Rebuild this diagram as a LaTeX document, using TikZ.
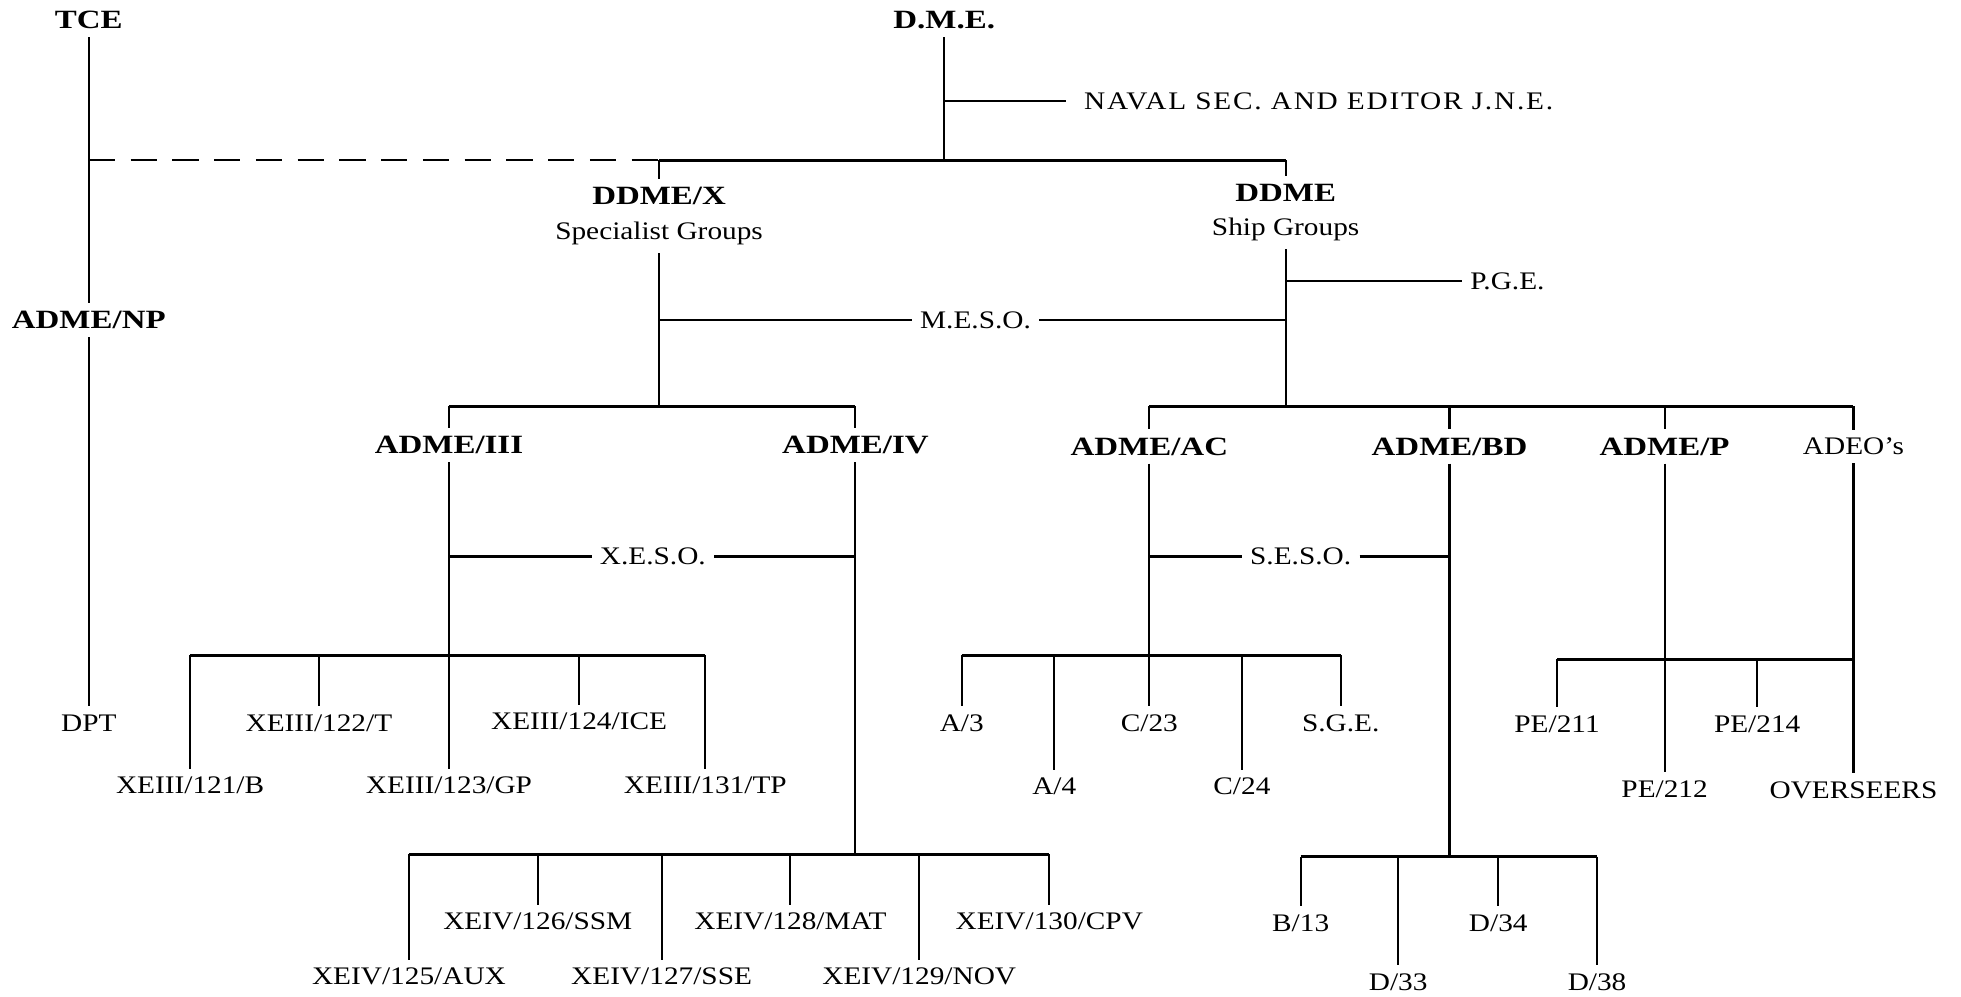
\documentclass[tikz,border=0pt]{standalone}
\usepackage{fontspec}
\setmainfont{Liberation Serif}[FakeStretch=1.16]
\newfontfamily\headfont{Liberation Serif}[FakeStretch=1.25]
\usetikzlibrary{positioning}

\tikzset{
  head/.style={font=\headfont\bfseries\fontsize{12}{14}\selectfont},
  unit/.style={font=\fontsize{11.5}{14}\selectfont},
  bar/.style={line width=1.3pt},
  link/.style={line width=0.8pt,dash pattern=on 12pt off 7pt},
}

\begin{document}
\begin{tikzpicture}[x=0.02cm,y=-0.02cm,line width=0.95pt]
  \useasboundingbox (0,0) rectangle (1568,797);
  % top of the chart
  \node[head] (TCE) at (71,16) {TCE};
  \node[head] (DME) at (755,16) {D.M.E.};
  \node[unit,anchor=west,inner xsep=8pt] (NAVAL) at (852,81) {\addfontfeatures{LetterSpace=7}NAVAL SEC. AND EDITOR J.N.E.};
  \node[head] (NP) at (71,256) {ADME/NP};
  \node[unit] (DPT) at (71,578) {DPT};
  \node[head] (DDMEX) at (527,157) {DDME/X};
  \node[unit] (SPEC) [below=0pt of DDMEX] {Specialist Groups};
  \node[head] (DDME) at (1028,154) {DDME};
  \node[unit] (SHIP) [below=0pt of DDME] {Ship Groups};
  \node[unit] (MESO) at (780,256) {M.E.S.O.};
  \node[unit,anchor=west] (PGE) at (1169,225) {P.G.E.};
  % assistant directors
  \node[head] (A3) at (359,356) {ADME/III};
  \node[head] (A4) at (684,356) {ADME/IV};
  \node[head] (AC) at (919,357) {ADME/AC};
  \node[head] (BD) at (1159,357) {ADME/BD};
  \node[head] (AP) at (1331,357) {ADME/P};
  \node[unit] (ADEO) at (1482,357) {ADEO's};
  \node[unit] (XESO) at (522,445) {X.E.S.O.};
  \node[unit] (SESO) at (1040,445) {S.E.S.O.};
  % sections
  \node[unit] (X121) at (152,628) {XEIII/121/B};
  \node[unit] (X122) at (255,578) {XEIII/122/T};
  \node[unit] (X123) at (359,628) {XEIII/123/GP};
  \node[unit] (X124) at (463,577) {XEIII/124/ICE};
  \node[unit] (X131) at (564,628) {XEIII/131/TP};
  \node[unit] (X125) at (327,781) {XEIV/125/AUX};
  \node[unit] (X126) at (430,737) {XEIV/126/SSM};
  \node[unit] (X127) at (529,781) {XEIV/127/SSE};
  \node[unit] (X128) at (632,737) {XEIV/128/MAT};
  \node[unit] (X129) at (735,781) {XEIV/129/NOV};
  \node[unit] (X130) at (839,737) {XEIV/130/CPV};
  \node[unit] (SA3) at (769,578) {A/3};
  \node[unit] (SA4) at (843,629) {A/4};
  \node[unit] (SC23) at (919,578) {C/23};
  \node[unit] (SC24) at (993,629) {C/24};
  \node[unit] (SGE) at (1072,578) {S.G.E.};
  \node[unit] (B13) at (1040,738) {B/13};
  \node[unit] (D33) at (1118,785) {D/33};
  \node[unit] (D34) at (1198,738) {D/34};
  \node[unit] (D38) at (1277,785) {D/38};
  \node[unit] (PE211) at (1245,579) {PE/211};
  \node[unit] (PE212) at (1331,631) {PE/212};
  \node[unit] (PE214) at (1405,579) {PE/214};
  \node[unit] (OVER) at (1482,632) {OVERSEERS};
  % bar levels
  \coordinate (row1) at (0,128);
  \coordinate (row2) at (0,325);
  \coordinate (row3) at (0,524);
  \coordinate (row4) at (0,683);
  \coordinate (row5) at (0,527);
  \coordinate (row6) at (0,685);
  % top connectors
  \draw (TCE.south) -- (NP.north);
  \draw (NP.south) -- (DPT.north);
  \draw (DME.south) -- (DME |- row1);
  \draw (DME |- NAVAL) -- (NAVAL.west);
  \draw[link] (TCE |- row1) -- (DDMEX |- row1);
  \draw[bar] (DDMEX |- row1) -- (DDME |- row1);
  \draw (DDMEX |- row1) -- (DDMEX.north);
  \draw (DDME |- row1) -- (DDME.north);
  \draw (SPEC.south) -- (SPEC |- row2);
  \draw (SHIP.south) -- (SHIP |- row2);
  \draw (SPEC |- MESO) -- (MESO.west);
  \draw (MESO.east) -- (SHIP |- MESO);
  \draw (SHIP |- PGE) -- (PGE.west);
  % specialist groups
  \draw[bar] (A3 |- row2) -- (A4 |- row2);
  \draw (A3 |- row2) -- (A3.north);
  \draw (A4 |- row2) -- (A4.north);
  \draw (A3 |- XESO) -- (XESO.west);
  \draw (XESO.east) -- (A4 |- XESO);
  \draw (A3.south) -- (X123.north);
  \draw[bar] (X121 |- row3) -- (X131 |- row3);
  \draw (X121 |- row3) -- (X121.north);
  \draw (X122 |- row3) -- (X122.north);
  \draw (X124 |- row3) -- (X124.north);
  \draw (X131 |- row3) -- (X131.north);
  \draw (A4.south) -- (A4 |- row4);
  \draw[bar] (X125 |- row4) -- (X130 |- row4);
  \draw (X125 |- row4) -- (X125.north);
  \draw (X126 |- row4) -- (X126.north);
  \draw (X127 |- row4) -- (X127.north);
  \draw (X128 |- row4) -- (X128.north);
  \draw (X129 |- row4) -- (X129.north);
  \draw (X130 |- row4) -- (X130.north);
  % ship groups
  \draw[bar] (AC |- row2) -- (ADEO |- row2);
  \draw (AC |- row2) -- (AC.north);
  \draw (BD |- row2) -- (BD.north);
  \draw (AP |- row2) -- (AP.north);
  \draw (ADEO |- row2) -- (ADEO.north);
  \draw (AC |- SESO) -- (SESO.west);
  \draw (SESO.east) -- (BD |- SESO);
  \draw (AC.south) -- (SC23.north);
  \draw[bar] (SA3 |- row3) -- (SGE |- row3);
  \draw (SA3 |- row3) -- (SA3.north);
  \draw (SA4 |- row3) -- (SA4.north);
  \draw (SC24 |- row3) -- (SC24.north);
  \draw (SGE |- row3) -- (SGE.north);
  \draw (BD.south) -- (BD |- row6);
  \draw[bar] (B13 |- row6) -- (D38 |- row6);
  \draw (B13 |- row6) -- (B13.north);
  \draw (D33 |- row6) -- (D33.north);
  \draw (D34 |- row6) -- (D34.north);
  \draw (D38 |- row6) -- (D38.north);
  \draw (AP.south) -- (PE212.north);
  \draw (ADEO.south) -- (OVER.north);
  \draw[bar] (PE211 |- row5) -- (ADEO |- row5);
  \draw (PE211 |- row5) -- (PE211.north);
  \draw (PE214 |- row5) -- (PE214.north);
\end{tikzpicture}
\end{document}
